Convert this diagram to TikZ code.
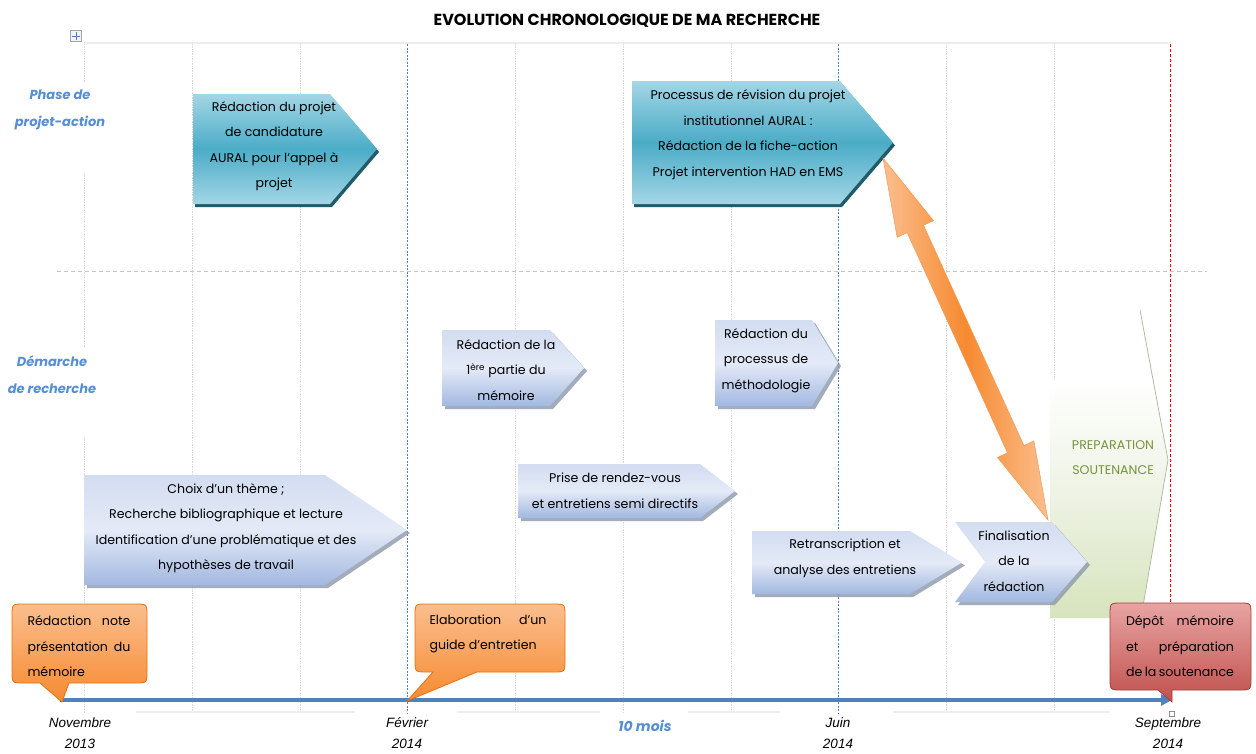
\documentclass[tikz,border=0pt]{standalone}
\usepackage{fontspec}
\setmainfont{Poppins}
\newfontfamily\datefont{Liberation Sans}
\usetikzlibrary{arrows.meta}
\definecolor{tealtop}{HTML}{A3D6E6}
\definecolor{tealmid}{HTML}{4BACC6}
\definecolor{tealsh}{HTML}{215A69}
\definecolor{lbtop}{HTML}{D3DDF1}
\definecolor{lbmid}{HTML}{E4EAF7}
\definecolor{lbbot}{HTML}{A2B8E0}
\definecolor{lbsh}{HTML}{8D98AA}
\definecolor{ortop}{HTML}{FBBE8E}
\definecolor{orbot}{HTML}{F68A30}
\definecolor{orline}{HTML}{E4720F}
\definecolor{rdtop}{HTML}{E8A4A2}
\definecolor{rdbot}{HTML}{C0504D}
\definecolor{rdline}{HTML}{A33F3C}
\definecolor{gridgray}{HTML}{D9D9D9}
\definecolor{axisblue}{HTML}{4F81BD}
\definecolor{lblblue}{HTML}{558ED5}
\definecolor{grn}{HTML}{77933C}
\definecolor{grnfill}{HTML}{D7E4BD}
\definecolor{grnmid}{HTML}{EDF2E3}
\definecolor{grnline}{HTML}{B2BDA0}
\newcommand{\pent}[6]{\path[#1] (#2,#3) -- (#4,#3) -- (#5,{0.5*(#3+#6)}) -- (#4,#6) -- (#2,#6) -- cycle;}
% callout: style, x1,y1,x2,y2, then pointer base a, base b, tip x, tip y (pointer on bottom edge)
\newcommand{\callout}[9]{\path[#1] (#7,#5) -- ({#4-12},#5) .. controls (#4,#5) .. (#4,{#5-12}) -- (#4,{#3+12}) .. controls (#4,#3) .. ({#4-12},#3) -- ({#2+12},#3) .. controls (#2,#3) .. (#2,{#3+12}) -- (#2,{#5-12}) .. controls (#2,#5) .. ({#2+12},#5) -- (#6,#5) -- (#8,#9) -- cycle;}
\begin{document}
\begin{tikzpicture}[x=1pt,y=-1pt,
  txt/.style={align=center, font={\fontsize{12.6}{25.5}\selectfont}, inner sep=0pt, text=black},
  jtxt/.style={align=justify, font={\fontsize{12.6}{25.5}\selectfont}, inner sep=0pt, text=black},
  lbl/.style={align=center, font={\fontsize{13}{27}\selectfont\bfseries\itshape}, text=lblblue, inner sep=0pt},
  datelbl/.style={align=center, font={\datefont\fontsize{13.5}{21}\selectfont\itshape}, text=black, inner sep=0pt},
  gridv/.style={draw=gridgray, line width=0.7, densely dotted},
  tealbox/.style={top color=tealtop, bottom color=tealtop, middle color=tealmid},
  tealshadow/.style={fill=tealsh},
  lbbox/.style={top color=lbtop, bottom color=lbbot, middle color=lbmid},
  lbshadow/.style={fill=lbsh, fill opacity=0.8},
  orcall/.style={top color=ortop, bottom color=orbot, draw=orline, line width=0.8},
  rdcall/.style={top color=rdtop, bottom color=rdbot, draw=rdline, line width=0.8},
]
\useasboundingbox[fill=white] (0,0) rectangle (1256,753);

% ---------- grid ----------
\draw[draw=black!7, line width=1.2] (84,43) -- (1170,43);
\foreach \gx in {192,300,515,623,731,946,1054} \draw[gridv] (\gx,44) -- (\gx,713);
\draw[gridv] (84,44) -- (84,82);
\draw[gridv] (84,173) -- (84,347);
\draw[gridv] (84,437) -- (84,713);
\draw[draw=axisblue, line width=0.7, dash pattern=on 2pt off 1.5pt] (407,44) -- (407,713);
\draw[draw=axisblue, line width=0.7, dash pattern=on 2pt off 1.5pt] (838,44) -- (838,713);
\draw[draw=red, line width=0.8, dash pattern=on 3pt off 2pt] (1170,44) -- (1170,700);
\draw[draw=black!22, line width=1, dash pattern=on 4pt off 3pt] (57,271) -- (1207,271);
\foreach \a/\b in {136/355,457/600,688/780,893/1110} \draw[draw=black!7, line width=1.2] (\a,712) -- (\b,712);

% ---------- title and side labels ----------
\node[font={\fontsize{16}{18}\selectfont\bfseries}] (title) at (627,21) {EVOLUTION CHRONOLOGIQUE DE MA RECHERCHE};
\node[draw=black!35, fill=black!5, minimum size=11pt, inner sep=0pt] (moveicon) at (76,36) {};
\draw[axisblue, line width=0.7] (moveicon.center) ++(-4,0) -- ++(8,0);
\draw[axisblue, line width=0.7] (moveicon.center) ++(0,-4) -- ++(0,8);
\node[lbl] (phase) at (60,110) {Phase de\\projet-action};
\node[lbl] (demarche) at (52,374.5) {Démarche\\de recherche};
\node[lbl, font={\fontsize{14}{16}\selectfont\bfseries\itshape}] (mois) at (645,726) {10 mois};

% ---------- green preparation shape ----------
\path[top color=white, bottom color=grnfill, middle color=grnmid] (1050,380) -- (1153,380) -- (1168,460) -- (1141,618) -- (1050,618) -- cycle;
\draw[grnline, line width=0.8] (1140,310) -- (1168,460) -- (1141,618);
\node[align=center, font={\fontsize{12.6}{25}\selectfont}, text=grn, inner sep=0pt] (prep) at (1113,458) {PREPARATION\\SOUTENANCE};

% ---------- teal pentagons ----------
\pent{tealshadow, shift={(2,3)}}{193}{94}{330}{377}{204}
\pent{tealbox}{193}{94}{330}{377}{204}
\node[txt] (redproj) at (274,146) {Rédaction du projet\\de candidature\\AURAL pour l’appel à\\projet};
\pent{tealshadow, shift={(2,3)}}{632}{81}{840}{893}{204}
\pent{tealbox}{632}{81}{840}{893}{204}
\node[txt] (revision) at (748,134.5) {Processus de révision du projet\\institutionnel AURAL :\\Rédaction de la fiche-action\\Projet intervention HAD en EMS};

% ---------- light blue pentagons ----------
\pent{lbshadow, shift={(3,3)}}{442}{330}{550}{584}{406}
\pent{lbbox}{442}{330}{550}{584}{406}
\node[txt] (partie) at (506,370) {Rédaction de la\\1\textsuperscript{ère} partie du\\mémoire};
\pent{lbshadow, shift={(3,3)}}{715}{320}{812}{838}{406}
\pent{lbbox}{715}{320}{812}{838}{406}
\node[txt] (methodo) at (766,360.5) {Rédaction du\\processus de\\méthodologie};
\pent{lbshadow, shift={(3,3)}}{84}{475}{325}{407}{585}
\pent{lbbox}{84}{475}{325}{407}{585}
\node[txt] (choix) at (226,528) {Choix d’un thème ;\\Recherche bibliographique et lecture\\Identification d’une problématique et des\\hypothèses de travail};
\pent{lbshadow, shift={(3,3)}}{518}{464}{700}{735}{518}
\pent{lbbox}{518}{464}{700}{735}{518}
\node[txt] (rdv) at (615,491) {Prise de rendez-vous\\et entretiens semi directifs};
\pent{lbshadow, shift={(3,3)}}{752}{531}{910}{962}{594}
\pent{lbbox}{752}{531}{910}{962}{594}
\node[txt] (retrans) at (845,558.5) {Retranscription et\\analyse des entretiens};
\path[lbshadow, shift={(3,3)}] (955,522) -- (1052,522) -- (1087,562) -- (1052,602) -- (955,602) -- (985,562) -- cycle;
\path[lbbox] (955,522) -- (1052,522) -- (1087,562) -- (1052,602) -- (955,602) -- (985,562) -- cycle;
\node[txt] (final) at (1014,561) {Finalisation\\de la\\rédaction};

% ---------- double orange arrow ----------
\coordinate (arrA) at (883,158);
\coordinate (arrB) at (1048,520);
\begin{scope}[shift={(arrA)}, rotate=-65.5]
\path[left color=ortop, right color=ortop, middle color=orbot, draw=orline!70, line width=0.5]
  (0,0) -- (78,20) -- (78,9) -- (320,9) -- (320,20) -- (398,0) -- (320,-20) -- (320,-9) -- (78,-9) -- (78,-20) -- cycle;
\end{scope}

% ---------- timeline ----------
\coordinate (tlstart) at (60,700);
\coordinate (tlend) at (1172,700);
\draw[axisblue, line width=4, -{Triangle[length=11pt,width=11pt]}] (tlstart) -- (tlend);
\node[draw=black!45, fill=white, minimum size=5pt, inner sep=0pt, line width=0.5] (sqmark) at (1172,714) {};

% ---------- callouts ----------
\callout{orcall}{12}{604}{147}{683}{40}{69}{62}{702}
\node[jtxt, text width=103pt] (note) at (79,646.5) {Rédaction note\linebreak présentation du\linebreak mémoire};
\callout{orcall}{415}{604}{565}{672}{433}{477}{407}{701}
\node[jtxt, text width=117pt] (guide) at (488,634) {Elaboration d’un\linebreak guide d’entretien};
\callout{rdcall}{1110}{603}{1251}{690}{1158}{1172}{1172}{702}
\node[jtxt, text width=108pt] (depot) at (1180,646.5) {Dépôt mémoire\linebreak et préparation\linebreak de la soutenance};

% ---------- dates ----------
\node[datelbl] (nov) at (80,733) {Novembre\\2013};
\node[datelbl] (fev) at (407,733) {Février\\2014};
\node[datelbl] (juin) at (838,733) {Juin\\2014};
\node[datelbl] (sept) at (1168,733) {Septembre\\2014};
\end{tikzpicture}
\end{document}
